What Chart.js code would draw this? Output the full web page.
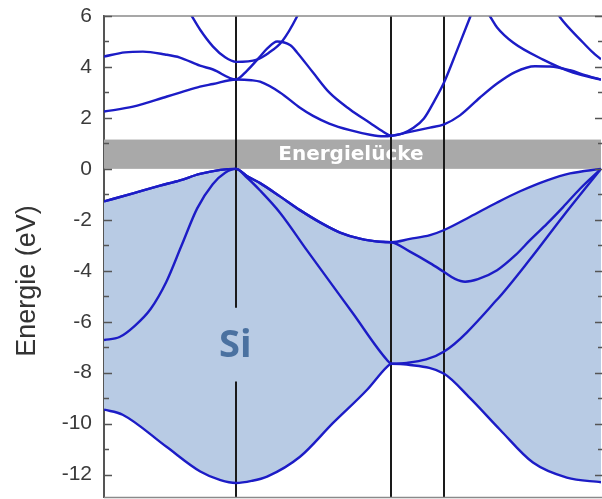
<!DOCTYPE html>
<html>
<head>
<meta charset="utf-8">
<script src="https://cdn.jsdelivr.net/npm/chart.js@4.4.1/dist/chart.umd.min.js"></script>
<style>
  html, body { margin: 0; padding: 0; background: #fff; }
  #wrap { width: 602px; height: 499px; }
</style>
</head>
<body>
<div id="wrap"><canvas id="bands" width="602" height="499"></canvas></div>
<script>
// Path through the Brillouin zone: L – Γ – X – U,K – Γ (k in path units)
const symPoints = [0, 0.85, 1.85, 2.19, 3.2];

// Energy axis (eV)
const yTicks = [-12, -10, -8, -6, -4, -2, 0, 2, 4, 6];
const yMinorTicks = [-11, -9, -7, -5, -3, -1, 1, 3, 5];
const yRange = [-12.9, 6];

// Band gap strip
const gapEdges = [0, 1.15];
const gapLabel = 'Energielücke';
const materialLabel = 'Si';
const axisTitle = 'Energie (eV)';

// Valence bands, [k, E]
const valence1 = [[0,-9.45],[0.12,-9.65],[0.4,-10.9],[0.62,-11.88],[0.75,-12.22],[0.85,-12.33],[0.95,-12.25],
  [1.05,-12.08],[1.262,-11.3],[1.475,-9.97],[1.694,-8.67],[1.822,-7.77],[1.85,-7.65],[1.95,-7.68],
  [2.19,-8.04],[2.357,-9.0],[2.55,-10.24],[2.762,-11.53],[2.98,-12.12],[3.2,-12.3]];

const valence2 = [[0,-6.72],[0.1,-6.6],[0.2,-6.15],[0.3,-5.5],[0.4,-4.45],[0.5,-3.0],[0.6,-1.55],
  [0.7,-0.6],[0.78,-0.15],[0.85,0],[0.92,-0.34],[1.005,-0.85],[1.133,-1.72],[1.307,-3.2],[1.6,-5.65],
  [1.822,-7.5],[1.85,-7.65],[1.95,-7.62],[2.19,-7.17],[2.531,-5.13],[2.743,-3.55],[2.956,-1.86],[3.2,0]];

// The two upper valence bands coincide from L to X
const heavyHoleLX = [[0,-1.28],[0.187,-0.96],[0.361,-0.66],[0.489,-0.45],[0.618,-0.2],[0.75,-0.04],[0.85,0],
  [0.92,-0.28],[1.005,-0.56],[1.133,-1.08],[1.262,-1.62],[1.391,-2.1],[1.52,-2.5],[1.648,-2.74],
  [1.777,-2.86],[1.85,-2.88]];

const valence3XG = [[1.97,-3.25],[2.099,-3.7],[2.19,-4.05],[2.26,-4.32],[2.325,-4.43],[2.408,-4.33],
  [2.531,-3.98],[2.647,-3.4],[2.743,-2.8],[2.853,-2.15],[2.956,-1.5],[3.065,-0.78],[3.2,0]];

const valence4XG = [[1.97,-2.75],[2.099,-2.6],[2.19,-2.4],[2.357,-1.88],[2.531,-1.32],[2.679,-0.88],
  [2.853,-0.45],[3.001,-0.18],[3.2,0]];

// Conduction bands, [k, E]
const conduction1 = [[0,2.25],[0.187,2.44],[0.406,2.84],[0.489,2.99],[0.618,3.23],[0.702,3.33],[0.85,3.51],
  [0.95,3.48],[1.005,3.42],[1.133,3.0],[1.262,2.4],[1.346,2.08],[1.45,1.78],[1.584,1.52],[1.713,1.34],
  [1.8,1.28],[1.85,1.3],[1.97,1.45],[2.099,1.62],[2.19,1.75],[2.292,2.1],[2.421,2.8],[2.531,3.35],
  [2.647,3.8],[2.775,4.03],[2.872,4.02],[3.001,3.87],[3.097,3.68],[3.2,3.5]];

const conduction2 = [[0,4.41],[0.135,4.57],[0.251,4.6],[0.393,4.49],[0.489,4.37],[0.618,4.05],[0.702,3.9],
  [0.85,3.51],[0.92,3.85],[1.005,4.41],[1.05,4.72],[1.115,5.0],[1.2,4.85],[1.243,4.57],[1.346,3.78],
  [1.45,3.0],[1.584,2.33],[1.713,1.8],[1.8,1.45],[1.85,1.3],[1.92,1.38],[1.99,1.6],[2.06,1.98],
  [2.13,2.7],[2.19,3.4],[2.273,4.65],[2.357,5.95],[2.41,6.8]];

const conduction3 = [[0.54,6.25],[0.567,5.98],[0.618,5.47],[0.702,4.8],[0.78,4.38],[0.85,4.2],[0.985,4.29],
  [1.06,4.55],[1.146,5.0],[1.243,5.98],[1.27,6.35]];

const conduction4 = [[2.45,6.3],[2.486,5.98],[2.531,5.55],[2.634,4.96],[2.827,4.29],[3.02,3.78],[3.2,3.5]];

const conduction5 = [[2.9,6.3],[2.936,5.95],[3.084,4.96],[3.149,4.56],[3.2,4.3]];

const toXY = pts => pts.map(([k, e]) => ({ x: k, y: e }));

const bandColor = '#1c1cc6';
const fillColor = '#b8cbe4';

function band(label, pts, extra) {
  return Object.assign({
    label,
    data: toXY(pts),
    borderColor: bandColor,
    borderWidth: 2.4,
    pointRadius: 0,
    fill: false,
    cubicInterpolationMode: 'monotone'
  }, extra || {});
}

const datasets = [
  band('VB1', valence1),
  band('VB2', valence2),
  band('VB3', heavyHoleLX.concat(valence3XG)),
  band('VB4', heavyHoleLX.concat(valence4XG), { fill: 0, backgroundColor: fillColor }),
  band('CB1', conduction1),
  band('CB2', conduction2),
  band('CB3', conduction3),
  band('CB4', conduction4),
  band('CB5', conduction5)
];

// Γ line is interrupted behind the material label
const gammaBreak = [-8.35, -5.45];
const gapLabelK = 1.59;
const materialLabelPos = [0.845, -6.95];

const bandDecor = {
  id: 'bandDecor',
  beforeDatasetsDraw(chart) {
    const { ctx, chartArea: a, scales: { x, y } } = chart;
    ctx.save();
    // band gap strip with its label
    const gTop = y.getPixelForValue(gapEdges[1]);
    const gBot = y.getPixelForValue(gapEdges[0]);
    ctx.fillStyle = '#a9a9a9';
    ctx.fillRect(a.left, gTop, a.right - a.left, gBot - gTop);
    ctx.font = 'bold 20px "DejaVu Sans"';
    ctx.fillStyle = '#ffffff';
    ctx.textAlign = 'center';
    ctx.textBaseline = 'middle';
    ctx.fillText(gapLabel, x.getPixelForValue(gapLabelK), (gTop + gBot) / 2 + 1);

    // material label
    ctx.font = 'bold 38px "Open Sans"';
    ctx.fillStyle = '#4a71a0';
    ctx.fillText(materialLabel, x.getPixelForValue(materialLabelPos[0]), y.getPixelForValue(materialLabelPos[1]));

    // high-symmetry lines
    ctx.strokeStyle = '#1a1a1a';
    ctx.lineWidth = 2;
    ctx.beginPath();
    symPoints.slice(1, 4).forEach((k, i) => {
      const px = Math.round(x.getPixelForValue(k));
      if (i === 0) {
        ctx.moveTo(px, a.top);
        ctx.lineTo(px, y.getPixelForValue(gammaBreak[1]));
        ctx.moveTo(px, y.getPixelForValue(gammaBreak[0]));
        ctx.lineTo(px, a.bottom);
      } else {
        ctx.moveTo(px, a.top);
        ctx.lineTo(px, a.bottom);
      }
    });
    ctx.stroke();
    ctx.restore();
  },
  afterDraw(chart) {
    const { ctx, chartArea: a, scales: { y } } = chart;
    ctx.save();
    // frame top and bottom
    ctx.strokeStyle = '#8a8a8a';
    ctx.lineWidth = 1.5;
    ctx.beginPath();
    ctx.moveTo(a.left, a.top); ctx.lineTo(a.right + 2, a.top);
    ctx.moveTo(a.left, a.bottom); ctx.lineTo(a.right + 2, a.bottom);
    ctx.stroke();

    // inward ticks on both sides
    ctx.strokeStyle = '#555';
    ctx.lineWidth = 1.5;
    ctx.beginPath();
    const tick = (v, lenL, lenR) => {
      const py = Math.round(y.getPixelForValue(v)) + 0.5;
      ctx.moveTo(a.left, py); ctx.lineTo(a.left + lenL, py);
      ctx.moveTo(a.right + 1, py); ctx.lineTo(a.right + 1 - lenR, py);
    };
    yTicks.forEach(v => tick(v, 8, 7));
    yMinorTicks.forEach(v => tick(v, 5, 4));
    ctx.stroke();

    // axis title
    ctx.translate(27.5, 281);
    ctx.rotate(-Math.PI / 2);
    ctx.font = '27px "Liberation Sans", Arial, sans-serif';
    ctx.fillStyle = '#333';
    ctx.textAlign = 'center';
    ctx.textBaseline = 'middle';
    ctx.fillText(axisTitle, 0, 0);
    ctx.restore();
  }
};

new Chart(document.getElementById('bands'), {
  type: 'line',
  data: { datasets },
  options: {
    responsive: false,
    animation: false,
    events: [],
    layout: { padding: { top: 16, bottom: 1.5, right: 1, left: 0 } },
    plugins: {
      legend: { display: false },
      tooltip: { enabled: false },
      filler: { drawTime: 'beforeDatasetsDraw' }
    },
    scales: {
      x: { type: 'linear', min: symPoints[0], max: symPoints[symPoints.length - 1], display: false },
      y: {
        type: 'linear',
        min: yRange[0],
        max: yRange[1],
        grid: { display: false, drawTicks: false },
        border: { display: true, color: '#555', width: 2 },
        ticks: {
          color: '#3a3a3a',
          padding: 12,
          font: { family: '"Liberation Sans", Arial, sans-serif', size: 21 }
        },
        afterBuildTicks: s => { s.ticks = yTicks.map(v => ({ value: v })); },
        afterFit: s => { s.width = 104; s.paddingTop = 0; s.paddingBottom = 0; }
      }
    }
  },
  plugins: [bandDecor]
});
</script>
</body>
</html>
